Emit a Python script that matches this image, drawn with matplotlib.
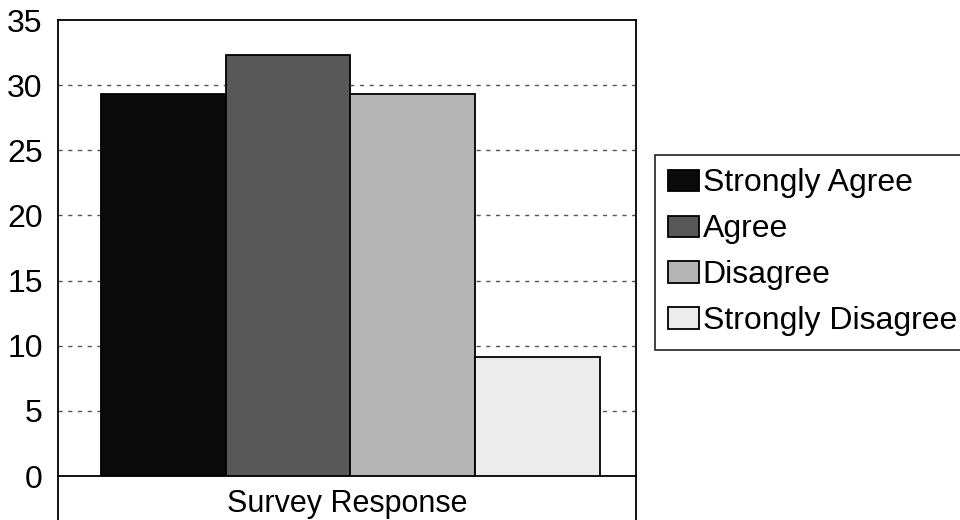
import numpy as np
import matplotlib.pyplot as plt

categories = ['Survey Response']
responses = ['Strongly Agree', 'Agree', 'Disagree', 'Strongly Disagree']
values = [29.3, 32.3, 29.3, 9.1]
colors = ['#0b0b0b', '#585858', '#b5b5b5', '#ececec']

plt.rcParams['font.family'] = ['Liberation Sans', 'DejaVu Sans']

fig = plt.figure(figsize=(9.6, 5.2), dpi=100)
ax = fig.add_axes([58/960, 44/520, 578/960, 456/520])

w = 0.216
x = np.arange(len(categories)) + 0.006
for i, (name, val, c) in enumerate(zip(responses, values, colors)):
    ax.bar(x + (i - 1.5) * w, [val], width=w, color=c, edgecolor='black',
           linewidth=1.3, label=name, zorder=3)

ax.set_xlim(-0.5, 0.5)
ax.set_ylim(0, 35)
ax.set_yticks(np.arange(0, 36, 5))
ax.tick_params(axis='y', length=0, labelsize=23, pad=11)
ax.set_xticks([])
for y in range(5, 35, 5):
    ax.axhline(y, color='#555555', linestyle=(0, (3, 4)), linewidth=1, zorder=1)
for s in ax.spines.values():
    s.set_linewidth(1.3)

# category label box below the axis
ext = -44/456
ax.plot([0, 0], [0, ext], transform=ax.transAxes, color='black', lw=1.3, clip_on=False)
ax.plot([1, 1], [0, ext], transform=ax.transAxes, color='black', lw=1.3, clip_on=False)
ax.text(0.5, -0.062, categories[0], transform=ax.transAxes, ha='center', va='center', fontsize=22)

leg = ax.legend(loc='upper left', bbox_to_anchor=(655/960, 1 - 155/520),
                bbox_transform=fig.transFigure, borderaxespad=0, fontsize=23,
                frameon=True, fancybox=False, handlelength=0.95, handleheight=0.65,
                handletextpad=0.12, labelspacing=0.5, borderpad=0.42)
leg.get_frame().set_edgecolor('black')
leg.get_frame().set_linewidth(1.3)

fig.savefig('out.png', dpi=100)
